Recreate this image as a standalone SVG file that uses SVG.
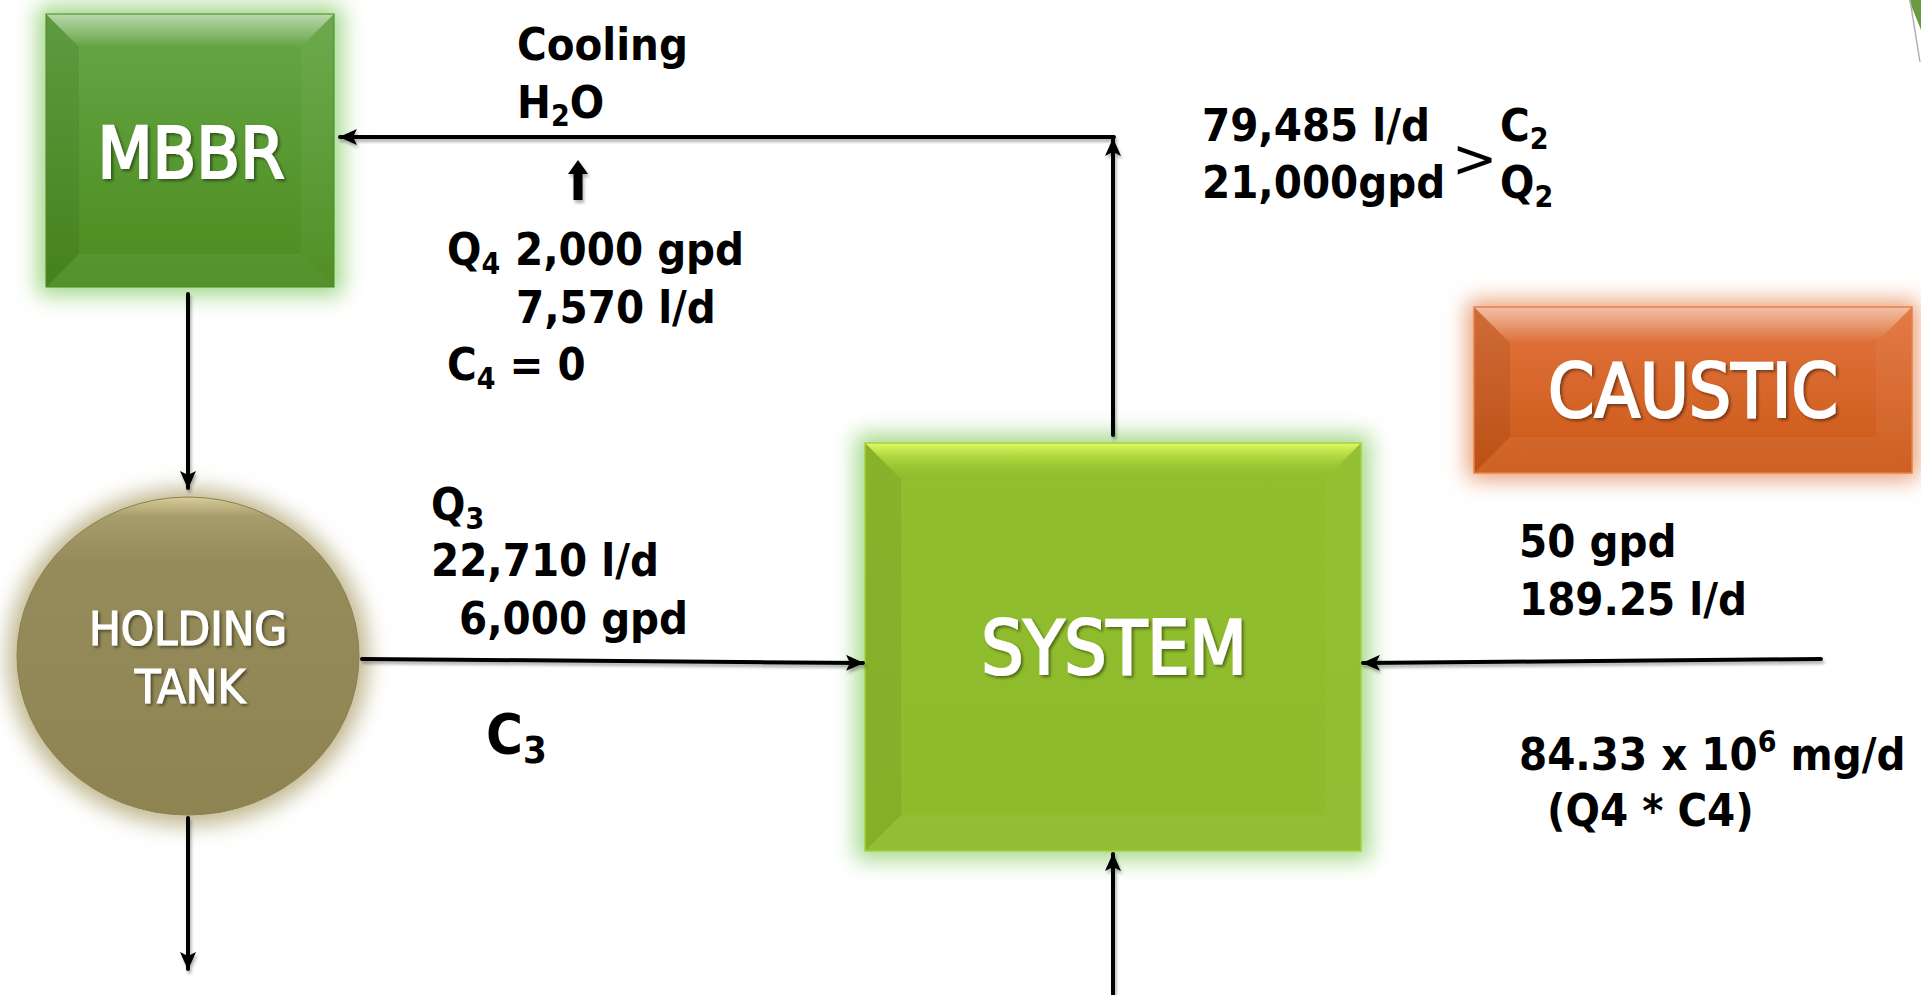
<svg xmlns="http://www.w3.org/2000/svg" width="1921" height="995" viewBox="0 0 1921 995">
<style>
.t{font-family:"DejaVu Sans Condensed","DejaVu Sans",sans-serif;font-stretch:condensed;font-weight:bold;font-size:45px;fill:#000}
.lbl{font-family:"DejaVu Sans Condensed","DejaVu Sans",sans-serif;font-stretch:condensed;fill:#fff;stroke:#fff;stroke-width:2.2px;text-anchor:middle}
.sub{font-size:30px}
.ln{fill:none;stroke:#000;stroke-width:4;stroke-linecap:round}
</style>
<defs>
<marker id="ah" markerUnits="userSpaceOnUse" markerWidth="20" markerHeight="16" refX="17" refY="8" orient="auto">
<path d="M0,0 L18,8 L0,16 L4,8 Z" fill="#000"/>
</marker>
<filter id="glow" x="-30%" y="-30%" width="160%" height="160%"><feGaussianBlur stdDeviation="11"/></filter>
<filter id="tsh" x="-10%" y="-20%" width="120%" height="150%"><feDropShadow dx="2" dy="2" stdDeviation="1.5" flood-color="#000" flood-opacity="0.45"/></filter>
<filter id="lsh" x="-5%" y="-5%" width="110%" height="110%"><feDropShadow dx="1.5" dy="3" stdDeviation="1.5" flood-color="#000" flood-opacity="0.3"/></filter>
<linearGradient id="gM" x1="0" y1="0" x2="0" y2="1"><stop offset="0" stop-color="#67a748"/><stop offset="1" stop-color="#4b8b1d"/></linearGradient>
<linearGradient id="gS" x1="0" y1="0" x2="0" y2="1"><stop offset="0" stop-color="#92be2e"/><stop offset="1" stop-color="#8dbb2b"/></linearGradient>
<linearGradient id="gC" x1="0" y1="0" x2="0" y2="1"><stop offset="0" stop-color="#e2743e"/><stop offset="1" stop-color="#cb5816"/></linearGradient>
<linearGradient id="gT" x1="0" y1="0" x2="0" y2="1"><stop offset="0" stop-color="#d8cc98"/><stop offset="0.06" stop-color="#a79d6c"/><stop offset="0.2" stop-color="#968c5b"/><stop offset="1" stop-color="#8e8452"/></linearGradient>
<linearGradient id="topHi" x1="0" y1="0" x2="0" y2="1"><stop offset="0" stop-color="#fff" stop-opacity="0.55"/><stop offset="1" stop-color="#fff" stop-opacity="0"/></linearGradient>
<linearGradient id="topS" x1="0" y1="0" x2="0" y2="1"><stop offset="0" stop-color="#e2ff68" stop-opacity="0.95"/><stop offset="0.45" stop-color="#c4e648" stop-opacity="0.5"/><stop offset="1" stop-color="#92be2e" stop-opacity="0"/></linearGradient>
</defs>

<rect width="1921" height="995" fill="#fff"/>

<!-- corner decoration -->
<path d="M1909,0 L1921,0 L1921,30 Z" fill="#6a9a40"/>
<path d="M1910,0 L1920,62" stroke="#b0b0b0" stroke-width="1.5" fill="none"/>

<g id="mbbr">
<rect x="38" y="6" width="304" height="289" fill="#9ed684" filter="url(#glow)"/>
<rect x="46" y="14" width="288" height="273" fill="url(#gM)"/>
<polygon points="46,14 334,14 301,47 79,47" fill="url(#topHi)"/>
<polygon points="46,14 79,47 79,254 46,287" fill="#000" fill-opacity="0.07"/>
<polygon points="334,14 301,47 301,254 334,287" fill="#fff" fill-opacity="0.04"/>
<polygon points="46,287 79,254 301,254 334,287" fill="#fff" fill-opacity="0.06"/>
<rect x="46" y="14" width="288" height="273" fill="none" stroke="#4a8a20" stroke-width="1"/>
<text class="lbl" x="191" y="178" style="font-size:71px" filter="url(#tsh)">MBBR</text>
</g>

<g id="holding-tank">
<ellipse cx="188" cy="657" rx="180" ry="168" fill="#bdb48a" filter="url(#glow)"/>
<ellipse cx="188" cy="656" rx="171" ry="159" fill="url(#gT)" stroke="#8a8050" stroke-width="1"/>
<text class="lbl" x="188" y="645" style="font-size:47px;stroke-width:1.2px" filter="url(#tsh)">HOLDING</text>
<text class="lbl" x="190" y="703" style="font-size:47px;stroke-width:1.2px" filter="url(#tsh)">TANK</text>
</g>

<g id="system">
<rect x="856" y="434" width="514" height="426" fill="#a4d98a" filter="url(#glow)"/>
<rect x="865" y="443" width="496" height="408" fill="url(#gS)"/>
<polygon points="865,443 1361,443 1325,479 901,479" fill="url(#topS)"/>
<polygon points="865,443 901,479 901,815 865,851" fill="#000" fill-opacity="0.06"/>
<polygon points="1361,443 1325,479 1325,815 1361,851" fill="#fff" fill-opacity="0.03"/>
<polygon points="865,851 901,815 1325,815 1361,851" fill="#fff" fill-opacity="0.05"/>
<rect x="865" y="443" width="496" height="408" fill="none" stroke="#a6d040" stroke-width="1.5"/>
<text class="lbl" x="1114" y="674" style="font-size:74px" filter="url(#tsh)">SYSTEM</text>
</g>

<g id="caustic">
<rect x="1468" y="301" width="450" height="178" fill="#e89a70" filter="url(#glow)"/>
<rect x="1474" y="307" width="438" height="166" fill="url(#gC)"/>
<polygon points="1474,307 1912,307 1876,343 1510,343" fill="url(#topHi)"/>
<polygon points="1474,307 1510,343 1510,437 1474,473" fill="#000" fill-opacity="0.08"/>
<polygon points="1912,307 1876,343 1876,437 1912,473" fill="#fff" fill-opacity="0.05"/>
<polygon points="1474,473 1510,437 1876,437 1912,473" fill="#fff" fill-opacity="0.06"/>
<rect x="1474" y="307" width="438" height="166" fill="none" stroke="#e8804a" stroke-width="1.5"/>
<text class="lbl" x="1693" y="417" style="font-size:74px" filter="url(#tsh)">CAUSTIC</text>
</g>

<g id="connectors" filter="url(#lsh)">
<path class="ln" d="M1113,435 L1113,139" marker-end="url(#ah)"/>
<path class="ln" d="M1114,137 L340,137" marker-end="url(#ah)"/>
<path class="ln" d="M188,294 L188,488" marker-end="url(#ah)"/>
<path class="ln" d="M188,818 L188,969" marker-end="url(#ah)"/>
<path class="ln" d="M362,659 L863,663" marker-end="url(#ah)"/>
<path class="ln" d="M1821,659 L1363,663" marker-end="url(#ah)"/>
<path class="ln" d="M1113,995 L1113,854" marker-end="url(#ah)"/>
<path d="M578,200 L578,172" stroke="#000" stroke-width="9" fill="none"/>
<path d="M568,174 L578,160 L588,174 Z" fill="#000"/>
</g>

<g id="labels">
<text class="t" x="517" y="60">Cooling</text>
<text class="t" x="517" y="118">H<tspan class="sub" dy="8">2</tspan><tspan dy="-8">O</tspan></text>
<text class="t" x="447" y="265">Q<tspan class="sub" dy="9">4</tspan></text>
<text class="t" x="515" y="265">2,000 gpd</text>
<text class="t" x="516" y="323">7,570 l/d</text>
<text class="t" x="447" y="380">C<tspan class="sub" dy="9">4</tspan><tspan dy="-9"> = 0</tspan></text>

<text class="t" x="1202" y="141">79,485 l/d</text>
<text class="t" x="1202" y="198">21,000gpd</text>
<text x="1452" y="177" font-family="DejaVu Sans, sans-serif" font-size="54" fill="#000">&gt;</text>
<text class="t" x="1500" y="141">C<tspan class="sub" dy="8">2</tspan></text>
<text class="t" x="1500" y="198">Q<tspan class="sub" dy="9">2</tspan></text>

<text class="t" x="431" y="520">Q<tspan class="sub" dy="9">3</tspan></text>
<text class="t" x="431" y="576">22,710 l/d</text>
<text class="t" x="459" y="634">6,000 gpd</text>
<text class="t" x="486" y="753" style="font-size:56px">C<tspan dy="10" style="font-size:38px">3</tspan></text>

<text class="t" x="1519" y="557">50 gpd</text>
<text class="t" x="1519" y="615">189.25 l/d</text>
<text class="t" x="1519" y="770">84.33 x 10<tspan class="sub" dy="-18">6</tspan><tspan dy="18"> mg/d</tspan></text>
<text class="t" x="1547" y="826">(Q4 * C4)</text>
</g>
</svg>
